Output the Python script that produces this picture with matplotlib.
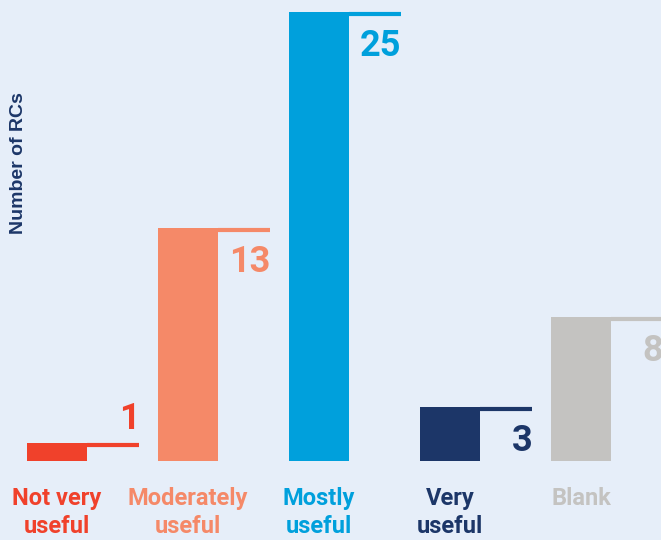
import matplotlib.pyplot as plt

# data
categories = ['Not very\nuseful', 'Moderately\nuseful', 'Mostly\nuseful', 'Very\nuseful', 'Blank']
values = [1, 13, 25, 3, 8]
colors = ['#f0412b', '#f58968', '#00a0dc', '#1c3668', '#c4c3c1']

bg = '#e6eef9'
plt.rcParams['font.family'] = ['Roboto', 'DejaVu Sans']

fig = plt.figure(figsize=(6.61, 5.40), dpi=100)
fig.patch.set_facecolor(bg)
ax = fig.add_axes([0, 0, 1, 1])
ax.set_facecolor(bg)

px_per_unit = 17.96
x = list(range(len(values)))
width = 0.458
ax.bar(x, values, width=width, color=colors, zorder=2)

# leader line + number to the right of each bar
line_len = 0.40
for xi, v, c in zip(x, values, colors):
    right = xi + width / 2
    ax.hlines(v - 2 / px_per_unit, right, right + line_len, color=c, lw=3, zorder=2)
    if v < 2:
        ax.text(right + line_len, v + 0.35, str(v), ha='right', va='bottom',
                color=c, fontsize=26, fontweight='bold')
    else:
        ax.text(right + line_len, v - 0.9, str(v), ha='right', va='top',
                color=c, fontsize=26, fontweight='bold')

# category labels
for xi, lab, c in zip(x, categories, colors):
    ax.text(xi, -1.45, lab, ha='center', va='top', color=c,
            fontsize=17, fontweight='bold', linespacing=1.3)

fig.text(19 / 661, 1 - 163 / 540, 'Number of RCs', rotation=90, ha='center', va='center',
         color='#1c3668', fontsize=14, fontweight='bold', family='Liberation Sans')

ax.set_xlim(-57 / 131, (661 - 57) / 131)
ax.set_ylim(-79 / px_per_unit, 461 / px_per_unit)
ax.axis('off')

fig.savefig('out.png', dpi=100, facecolor=bg)
